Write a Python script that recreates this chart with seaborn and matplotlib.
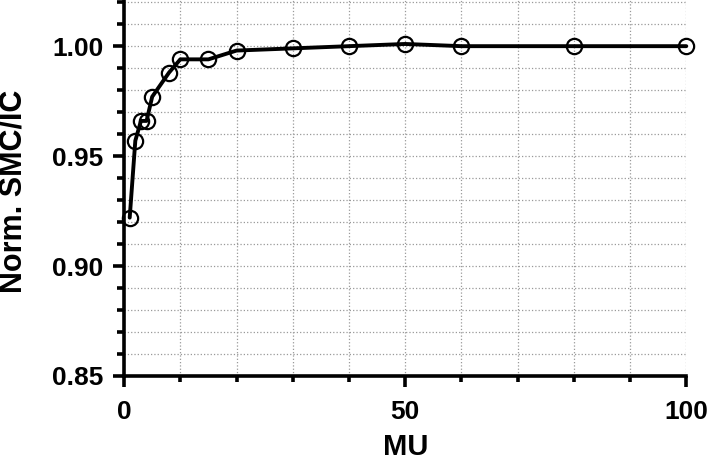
import pandas as pd
import seaborn as sns
import matplotlib.pyplot as plt
from matplotlib.ticker import MultipleLocator

# data
mu = [1, 2, 3, 4, 5, 8, 10, 15, 20, 30, 40, 50, 60, 80, 100]
smc_ic = [0.922, 0.957, 0.966, 0.966, 0.977, 0.988, 0.994, 0.994, 0.998,
          0.999, 1.000, 1.001, 1.000, 1.000, 1.000]

df = pd.DataFrame({'MU': mu, 'Norm. SMC/IC': smc_ic})

sns.set_theme(style='ticks')
plt.rcParams['font.family'] = ['Liberation Sans', 'DejaVu Sans']
plt.rcParams['font.weight'] = 'bold'
for k in ['text.color', 'axes.labelcolor', 'xtick.color', 'ytick.color']:
    plt.rcParams[k] = 'black'

fig = plt.figure(figsize=(7.09, 4.67), dpi=100)
ax = fig.add_axes([0.175, 0.195, 0.793, 0.805])

sns.lineplot(data=df, x='MU', y='Norm. SMC/IC', ax=ax, color='black', linewidth=2.8,
             marker='o', markersize=11, markerfacecolor='none',
             markeredgecolor='black', markeredgewidth=1.6, clip_on=False, zorder=5)

ax.set_xlim(0, 100)
ax.set_ylim(0.85, 1.021)
ax.xaxis.set_major_locator(MultipleLocator(50))
ax.xaxis.set_minor_locator(MultipleLocator(10))
ax.yaxis.set_major_locator(MultipleLocator(0.05))
ax.yaxis.set_minor_locator(MultipleLocator(0.01))
ax.yaxis.set_major_formatter(plt.FormatStrFormatter('%.2f'))

ax.grid(which='both', linestyle=':', color='#999999', linewidth=0.9)
ax.set_axisbelow(True)

for s in ['top', 'right']:
    ax.spines[s].set_visible(False)
for s in ['left', 'bottom']:
    ax.spines[s].set_linewidth(2.6)
    ax.spines[s].set_color('black')

ax.tick_params(axis='both', which='major', length=8, width=2.6, labelsize=19, pad=7)
ax.tick_params(axis='y', which='minor', length=5, width=2.6)
ax.tick_params(axis='x', which='minor', length=4, width=2.6)
ax.tick_params(axis='x', which='major', pad=9)
for lbl in ax.get_xticklabels() + ax.get_yticklabels():
    lbl.set_fontweight('bold')

ax.set_xlabel('MU', fontsize=21, fontweight='bold')
ax.set_ylabel('Norm. SMC/IC', fontsize=22, fontweight='bold')
ax.xaxis.set_label_coords(0.5, -0.152)
ax.yaxis.set_label_coords(-0.17, 0.49)

fig.savefig('out.png', dpi=100)
